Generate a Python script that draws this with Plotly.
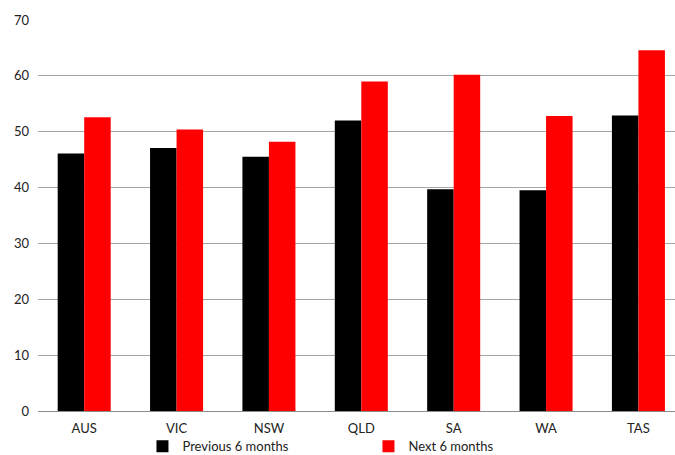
import plotly.graph_objects as go

regions = ["AUS", "VIC", "NSW", "QLD", "SA", "WA", "TAS"]
previous_6m = [46.1, 47.1, 45.5, 52.0, 39.7, 39.5, 52.9]
next_6m = [52.6, 50.4, 48.2, 59.0, 60.2, 52.8, 64.6]
y_ticks = [0, 10, 20, 30, 40, 50, 60, 70]

fig = go.Figure()
fig.add_trace(go.Bar(name="Previous 6 months", x=regions, y=previous_6m,
                     marker=dict(color="#000000", line=dict(width=0))))
fig.add_trace(go.Bar(name="Next 6 months", x=regions, y=next_6m,
                     marker=dict(color="#ff0000", line=dict(width=0))))

fig.update_layout(
    width=675, height=455,
    margin=dict(l=38, r=0, t=20, b=44, autoexpand=False),
    paper_bgcolor="white", plot_bgcolor="white",
    barmode="group", bargap=0.426, bargroupgap=0,
    font=dict(family="Lato, Open Sans, sans-serif", size=13, color="#333333"),
    showlegend=True,
    legend=dict(orientation="h", x=0.164, xanchor="left", y=-0.09, yanchor="middle",
                entrywidth=181, entrywidthmode="pixels",
                font=dict(size=13, color="#222222"), bgcolor="rgba(0,0,0,0)"),
    xaxis=dict(range=[-0.5, 6.396], showgrid=False, ticks="", showline=False,
               ticklabelstandoff=8, tickfont=dict(size=13, color="#222222")),
    yaxis=dict(range=[0, 70], tickvals=y_ticks, showgrid=True, gridcolor="#a6a6a6",
               gridwidth=1, zeroline=True, zerolinecolor="#8c8c8c", zerolinewidth=1,
               showline=False, ticks="", ticklabelstandoff=8,
               tickfont=dict(size=13, color="#222222")),
)

fig.write_html("out.html")
